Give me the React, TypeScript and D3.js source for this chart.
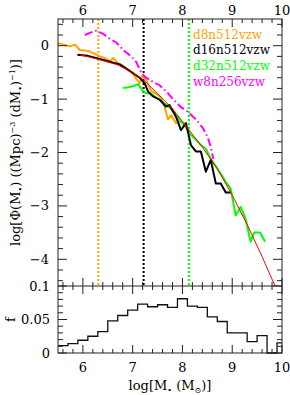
import React from "react";
import * as d3 from "d3";

// frame in pixels
const W = 290;
const H = 395;
const left = 58;
const right = 282;
const top = 19;
const mid = 286;
const bottom = 353;

const xTicks = [6, 7, 8, 9, 10];
const yTicks = [0, -1, -2, -3, -4];
const fTicks = [0, 0.05, 0.1];
const fTickLabels = ["0", "0.05", "0.1"];

const legendNames = ["d8n512vzw", "d16n512vzw", "d32n512vzw", "w8n256vzw"];
const legendColors = ["#ffa500", "#000000", "#00ff00", "#ff00ff"];
// mass resolution limits (orange, black, green)
const resolutionLimits = [6.31, 7.22, 8.13];

// log M*, log Phi
const d8n512: [number, number][] = [
  [5.5, 0.05], [5.61, 0.02], [5.74, -0.01], [5.84, 0.02], [5.94, -0.08],
  [6.04, -0.09], [6.14, -0.11], [6.24, -0.15], [6.34, -0.2], [6.44, -0.23],
  [6.54, -0.29], [6.61, -0.23], [6.71, -0.33], [6.81, -0.38], [6.91, -0.45],
  [7.01, -0.53], [7.08, -0.63], [7.14, -0.7], [7.2, -0.56], [7.27, -0.64],
  [7.37, -0.85], [7.47, -0.9], [7.57, -0.97], [7.64, -1.14], [7.71, -1.38],
  [7.77, -1.3], [7.87, -1.45], [7.97, -1.42], [8.05, -1.47],
];

const d16n512: [number, number][] = [
  [5.89, -0.17], [6.1, -0.19], [6.3, -0.24], [6.5, -0.29], [6.74, -0.35],
  [6.94, -0.47], [7.14, -0.6], [7.24, -0.7], [7.31, -0.86], [7.41, -0.95],
  [7.54, -1.01], [7.67, -1.14], [7.74, -1.11], [7.87, -1.33], [7.97, -1.58],
  [8.07, -1.45], [8.17, -1.86], [8.27, -1.98], [8.37, -1.98], [8.47, -2.36],
  [8.57, -2.14], [8.67, -2.58], [8.77, -2.58], [8.87, -2.75], [8.97, -2.75],
];

const d32n512: [number, number][] = [
  [6.81, -0.79], [6.91, -0.78], [7.01, -0.76], [7.11, -0.72], [7.2, -0.84],
  [7.27, -0.89], [7.37, -0.9], [7.47, -0.97], [7.57, -1.03], [7.67, -1.1],
  [7.77, -1.18], [7.87, -1.3], [7.97, -1.42], [8.07, -1.53], [8.17, -1.67],
  [8.27, -1.76], [8.37, -1.86], [8.47, -1.93], [8.57, -2.12], [8.67, -2.26],
  [8.77, -2.4], [8.87, -2.55], [8.97, -2.68], [9.07, -3.18], [9.17, -3.02],
  [9.27, -3.25], [9.37, -3.67], [9.44, -3.5], [9.56, -3.5], [9.66, -3.67],
];

const w8n256: [number, number][] = [
  [6.04, 0.2], [6.14, 0.24], [6.27, 0.28], [6.41, 0.22], [6.54, 0.13],
  [6.67, 0.06], [6.81, -0.08], [6.97, -0.2], [7.07, -0.3], [7.14, -0.45],
  [7.24, -0.58], [7.41, -0.68], [7.54, -0.74], [7.67, -0.85], [7.81, -1.0],
  [7.97, -1.15], [8.11, -1.24], [8.27, -1.38], [8.41, -1.54], [8.51, -1.72],
  [8.57, -1.9], [8.62, -2.12],
];

// fit
const fitCurve: [number, number][] = [
  [5.94, -0.17], [6.3, -0.25], [6.7, -0.36], [7.0, -0.5], [7.24, -0.66],
  [7.5, -0.9], [7.8, -1.18], [8.1, -1.54], [8.4, -1.9], [8.7, -2.3],
  [9.0, -2.8], [9.3, -3.35], [9.6, -3.95], [9.86, -4.5],
];

// lower panel histogram
const fBinStart = [
  5.5, 5.7, 5.9, 6.1, 6.3, 6.5, 6.7, 6.9, 7.1, 7.3, 7.5, 7.7,
  7.9, 8.1, 8.3, 8.5, 8.7, 8.9, 9.1, 9.3, 9.5, 9.7, 9.9,
];
const fValues = [
  0.011, 0.014, 0.019, 0.025, 0.032, 0.048, 0.056, 0.064, 0.073, 0.069, 0.072, 0.068,
  0.081, 0.07, 0.068, 0.054, 0.047, 0.03, 0.03, 0.017, 0.026, 0, 0.015,
];

const font = "'DejaVu Serif', serif";

export default function App() {
  const x = d3.scaleLinear().domain([5.5, 10]).range([left, right]);
  const y = d3.scaleLinear().domain([-4.5, 0.5]).range([mid, top]);
  const yf = d3.scaleLinear().domain([0, 0.1]).range([bottom, mid]);

  const line = d3
    .line<[number, number]>()
    .x((d) => x(d[0]))
    .y((d) => y(d[1]));

  const histPts: [number, number][] = fBinStart.map((b, i) => [b, fValues[i]]);
  histPts.push([10, fValues[fValues.length - 1]]);
  const histLine = d3
    .line<[number, number]>()
    .x((d) => x(d[0]))
    .y((d) => yf(d[1]))
    .curve(d3.curveStepAfter);

  const isMajor = (v: number, step: number) => Math.abs(v / step - Math.round(v / step)) < 1e-6;
  const xMinor = d3.range(5.6, 10, 0.2).filter((v) => !isMajor(v, 1));
  const xMajor = xTicks;
  const yMinor = d3.range(-4.4, 0.5, 0.2).filter((v) => !isMajor(v, 1));
  const fMinor = d3.range(0.01, 0.1, 0.01).filter((v) => !isMajor(v, 0.05));

  const ax = "#222";

  // ticks on a horizontal edge; dir = +1 points down, -1 points up
  const hTicks = (yy: number, dir: number, key: string) => (
    <g key={key}>
      {xMajor.map((v) => (
        <line key={"M" + v} x1={x(v)} x2={x(v)} y1={yy} y2={yy + dir * 8} stroke={ax} />
      ))}
      {xMinor.map((v) => (
        <line key={"m" + v} x1={x(v)} x2={x(v)} y1={yy} y2={yy + dir * 4} stroke={ax} />
      ))}
    </g>
  );

  return (
    <svg
      width={W}
      height={H}
      style={{ position: "absolute", left: 0, top: 0, background: "#fff" }}
      fontFamily={font}
    >
      {/* resolution limits */}
      {resolutionLimits.map((v, i) => (
        <line
          key={"r" + i}
          x1={x(v)}
          x2={x(v)}
          y1={top}
          y2={mid}
          stroke={legendColors[i]}
          strokeWidth={2}
          strokeDasharray="2,2"
        />
      ))}

      {/* simulation curves */}
      <path d={line(d8n512) ?? ""} fill="none" stroke={legendColors[0]} strokeWidth={2} strokeLinejoin="round" />
      <path d={line(d32n512) ?? ""} fill="none" stroke={legendColors[2]} strokeWidth={2} strokeLinejoin="round" />
      <path d={line(d16n512) ?? ""} fill="none" stroke={legendColors[1]} strokeWidth={2} strokeLinejoin="round" />
      <path
        d={line(w8n256) ?? ""}
        fill="none"
        stroke={legendColors[3]}
        strokeWidth={2}
        strokeDasharray="8,3,1.5,3"
      />
      <path d={line(fitCurve) ?? ""} fill="none" stroke="#ff0000" strokeWidth={1} />

      {/* legend */}
      {legendNames.map((n, i) => (
        <text key={n} x={193} y={38.5 + i * 15.8} fontSize={12} fill={legendColors[i]}>
          {n}
        </text>
      ))}

      {/* histogram */}
      <path d={histLine(histPts) ?? ""} fill="none" stroke="#111" strokeWidth={1.3} />

      {/* frames */}
      <rect x={left} y={top} width={right - left} height={bottom - top} fill="none" stroke={ax} />
      <line x1={left} x2={right} y1={mid} y2={mid} stroke={ax} />

      {hTicks(top, 1, "t")}
      {hTicks(mid, -1, "m1")}
      {hTicks(mid, 1, "m2")}
      {hTicks(bottom, -1, "b")}

      {yTicks.map((v) => (
        <g key={"y" + v}>
          <line x1={left} x2={left + 9} y1={y(v)} y2={y(v)} stroke={ax} />
          <line x1={right} x2={right - 9} y1={y(v)} y2={y(v)} stroke={ax} />
        </g>
      ))}
      {yMinor.map((v) => (
        <g key={"ym" + v}>
          <line x1={left} x2={left + 5} y1={y(v)} y2={y(v)} stroke={ax} />
          <line x1={right} x2={right - 5} y1={y(v)} y2={y(v)} stroke={ax} />
        </g>
      ))}
      {fTicks.map((v) => (
        <g key={"f" + v}>
          <line x1={left} x2={left + 9} y1={yf(v)} y2={yf(v)} stroke={ax} />
          <line x1={right} x2={right - 9} y1={yf(v)} y2={yf(v)} stroke={ax} />
        </g>
      ))}
      {fMinor.map((v) => (
        <g key={"fm" + v}>
          <line x1={left} x2={left + 5} y1={yf(v)} y2={yf(v)} stroke={ax} />
          <line x1={right} x2={right - 5} y1={yf(v)} y2={yf(v)} stroke={ax} />
        </g>
      ))}

      {/* tick labels */}
      {xTicks.map((v) => (
        <g key={"xl" + v} fontSize={13} textAnchor="middle" fill="#000">
          <text x={x(v)} y={15}>{v}</text>
          <text x={x(v)} y={372}>{v}</text>
        </g>
      ))}
      {yTicks.map((v) => (
        <text key={"yl" + v} x={49} y={y(v) + 4.5} fontSize={13} textAnchor="end">
          {v < 0 ? "\u2212" + Math.abs(v) : v}
        </text>
      ))}
      {fTicks.map((v, i) => (
        <text key={"fl" + v} x={50} y={yf(v) + 4.5} fontSize={13} textAnchor="end">
          {fTickLabels[i]}
        </text>
      ))}

      {/* axis titles */}
      <text x={(left + right) / 2} y={390} fontSize={13} textAnchor="middle">
        log[M<tspan fontSize={8} dy={3}>•</tspan>
        <tspan dy={-3}> (M</tspan>
        <tspan fontSize={8} dy={3}>⊙</tspan>
        <tspan dy={-3}>)]</tspan>
      </text>
      <text
        transform={`translate(20,${(top + mid) / 2}) rotate(-90)`}
        fontSize={13}
        textAnchor="middle"
      >
        log[Φ(M<tspan fontSize={8} dy={3}>•</tspan>
        <tspan dy={-3}>) ((Mpc)</tspan>
        <tspan fontSize={8} dy={-5}>−3</tspan>
        <tspan dy={5}> (dM</tspan>
        <tspan fontSize={8} dy={3}>•</tspan>
        <tspan dy={-3}>)</tspan>
        <tspan fontSize={8} dy={-5}>−1</tspan>
        <tspan dy={5}>)]</tspan>
      </text>
      <text transform={`translate(15,${(mid + bottom) / 2}) rotate(-90)`} fontSize={13} textAnchor="middle">
        f
      </text>
    </svg>
  );
}
